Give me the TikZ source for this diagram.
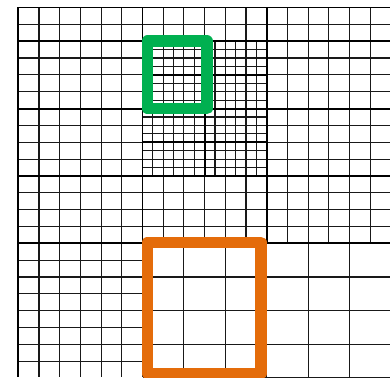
\documentclass[tikz,border=0pt]{standalone}
\definecolor{boxgreen}{RGB}{0,176,80}
\definecolor{boxorange}{RGB}{228,108,10}
\tikzset{
  thinline/.style={line width=1.1pt, draw=black!90},
  thickline/.style={line width=1.9pt, draw=black},
  hilite/.style={line width=11.4pt, line join=round}
}
\begin{document}
\begin{tikzpicture}[x=1pt,y=-1pt]
\useasboundingbox (0,0) rectangle (390,377);
\clip (0,0) rectangle (390,377);
\def\XA{18.3}\def\XB{142.5}\def\XC{266.7}
\def\W{20.7}\def\H{16.84}
\def\YZ{7.5}\def\YA{41.2}\def\YD{243.3}\def\YC{176}
% left column cells
\foreach \i in {0,...,6} \draw[thinline] ({\XA+\i*\W},\YZ) -- ({\XA+\i*\W},377);
\foreach \j in {-2,...,19} \draw[thinline] (\XA,{\YA+\j*\H}) -- (\XB,{\YA+\j*\H});
% middle column, top band and band below the fine blocks
\foreach \i in {6,...,12} {
  \draw[thinline] ({\XA+\i*\W},\YZ) -- ({\XA+\i*\W},\YA);
  \draw[thinline] ({\XA+\i*\W},\YC) -- ({\XA+\i*\W},\YD);
}
\foreach \j in {-2,...,0} \draw[thinline] (\XB,{\YA+\j*\H}) -- (\XC,{\YA+\j*\H});
\foreach \j in {8,...,12} \draw[thinline] (\XB,{\YA+\j*\H}) -- (\XC,{\YA+\j*\H});
% right column
\foreach \i in {12,...,18} \draw[thinline] ({\XA+\i*\W},\YZ) -- ({\XA+\i*\W},\YD);
\foreach \j in {-2,...,12} \draw[thinline] (\XC,{\YA+\j*\H}) -- (390,{\YA+\j*\H});
% fine blocks
\foreach \i in {0,...,12} \draw[thinline] ({\XB+\i*\W/2},\YA) -- ({\XB+\i*\W/2},\YC);
\foreach \j in {0,...,16} \draw[thinline] (\XB,{\YA+\j*\H/2}) -- (\XC,{\YA+\j*\H/2});
% coarse cells bottom right
\foreach \i in {0,...,6} \draw[thinline] ({\XB+\i*2*\W},\YD) -- ({\XB+\i*2*\W},377);
\foreach \j in {0,...,4} \draw[thinline] (\XB,{\YD+\j*2*\H}) -- (390,{\YD+\j*2*\H});
% thick block boundaries
\draw[thickline] (\XA,\YZ) -- (\XA,377);
\draw[thickline] (\XB,\YZ) -- (\XB,\YD);
\draw[thickline] (\XC,\YZ) -- (\XC,\YD);
\draw[thickline] ({\XB+3*\W},\YA) -- ({\XB+3*\W},\YC);
\foreach \j in {-2,0,4,8,12} \draw[thickline] (\XA,{\YA+\j*\H}) -- (390,{\YA+\j*\H});
\foreach \j in {2,6} \draw[thickline] (\XB,{\YA+\j*\H}) -- (\XC,{\YA+\j*\H});
% highlight boxes
\draw[hilite, boxgreen] (147.5,41) rectangle (206.9,108.7);
\draw[hilite, boxorange] (147.3,242.5) rectangle (260.9,373.5);
\end{tikzpicture}
\end{document}
